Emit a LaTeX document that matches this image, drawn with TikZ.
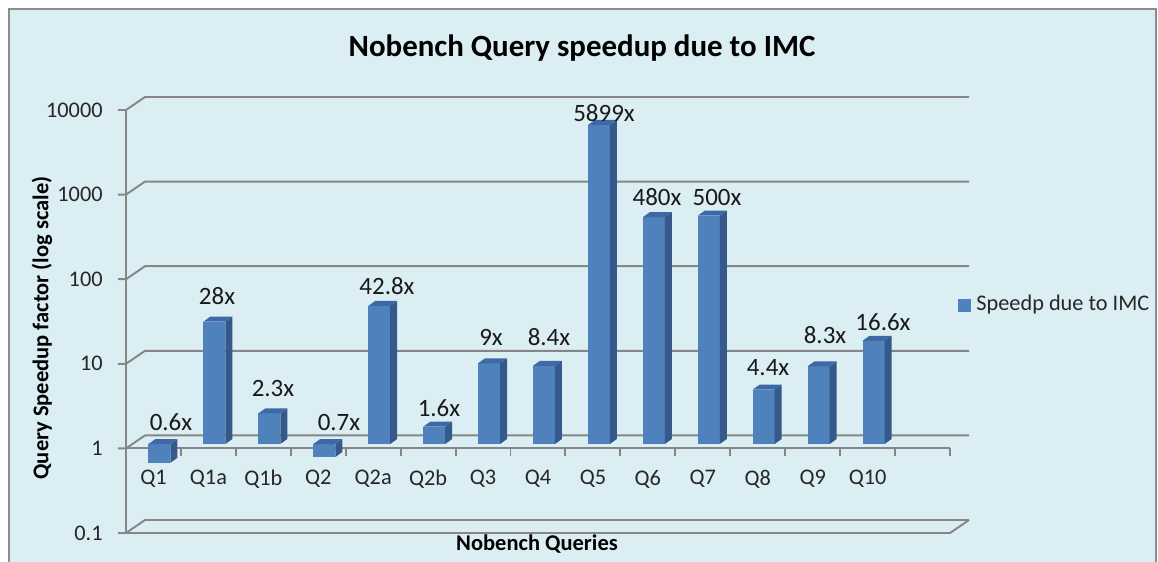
\documentclass[tikz,border=0pt]{standalone}
\usepackage{fontspec}
\setmainfont{Carlito}

\definecolor{chartbg}{HTML}{DBEEF4}
\definecolor{framegray}{HTML}{8C8C8C}
\definecolor{gridgray}{HTML}{868686}
\definecolor{barfront}{HTML}{4F81BD}
\definecolor{barside}{HTML}{34598A}
\definecolor{bartop}{HTML}{3E69A6}

\begin{document}
\begin{tikzpicture}[x=0.02cm,y=-0.02cm]

  \useasboundingbox (0,0) rectangle (1158,561);

  % node styles
  \tikzstyle{Grid}=[draw=gridgray,line width=1.1pt]
  \tikzstyle{Value}=[font=\fontsize{14.2}{16}\selectfont,text=black!90,inner sep=0pt]
  \tikzstyle{Tick}=[font=\fontsize{12.7}{15}\selectfont,text=black!85,anchor=east,inner sep=0pt]
  \tikzstyle{Cat}=[font=\fontsize{12.7}{15}\selectfont,text=black!85,inner sep=0pt]
  \tikzstyle{Label}=[font=\bfseries\fontsize{12.8}{15}\selectfont,inner sep=0pt]

  % chart area
  \begin{scope}
    \clip (0,0) rectangle (1158,561);
    \draw[fill=chartbg,draw=framegray,line width=1.2pt] (9,9) rectangle (1156,580);
  \end{scope}

  \node[font=\bfseries\fontsize{17.6}{20}\selectfont,inner sep=0pt] (title) at (582,48)
    {Nobench Query speedup due to IMC};

  % walls and grid (log scale, 0.1 ... 10000)
  \foreach \k/\t in {0/0.1,1/1,2/10,3/100,4/1000,5/10000} {
    \pgfmathsetmacro{\yf}{533-84.6*\k}
    \draw[Grid] (118,\yf) -- (126,\yf) -- (145,\yf-13) -- (969,\yf-13);
    \node[Tick] (tick\k) at (103,\yf) {\t};
  }
  \draw[Grid] (126,533) -- (950,533) -- (969,520);
  \draw[Grid] (126,110) -- (126,533);

  % category axis at value 1
  \draw[Grid] (126,448) -- (950,448);
  \foreach \j in {1,...,15}
    \draw[Grid] (126+54.93*\j,448) -- (126+54.93*\j,456);

  % 3d columns
  \foreach \i/\q/\v/\lx/\ly in {0/Q1/0.6/171/422, 1/Q1a/28/217/296, 2/Q1b/2.3/273/388,
      3/Q2/0.7/339/422, 4/Q2a/42.8/387/286, 5/Q2b/1.6/439/408, 6/Q3/9/491/337,
      7/Q4/8.4/549/337, 8/Q5/5899/604/113, 9/Q6/480/657/197, 10/Q7/500/717/197,
      11/Q8/4.4/768/368, 12/Q9/8.3/825/335, 13/Q10/16.6/883/322} {
    \pgfmathsetmacro{\xa}{126+54.93*(\i+0.5)-5}
    \pgfmathsetmacro{\xb}{\xa+22}
    \pgfmathsetmacro{\yv}{444-84.6*log10(\v)}
    \pgfmathsetmacro{\ya}{min(444,\yv)}
    \pgfmathsetmacro{\yb}{max(444,\yv)}
    \fill[barfront] (\xa,\ya) rectangle (\xb,\yb);
    \fill[barside] (\xb,\ya) -- (\xb+7,\ya-5) -- (\xb+7,\yb-5) -- (\xb,\yb) -- cycle;
    \fill[bartop] (\xa,\ya) -- (\xa+7,\ya-5) -- (\xb+7,\ya-5) -- (\xb,\ya) -- cycle;
    \node[Value] (val\i) at (\lx,\ly) {\v x};
    \node[Cat] (cat\i) at (126+54.93*\i+27.5,479) {\q};
  }

  % axis titles
  \node[Label,rotate=90] (ytitle) at (42,328) {Query Speedup factor (log scale)};
  \node[Label] (xtitle) at (537,544) {Nobench Queries};

  % legend
  \node[fill=barfront,minimum size=13*0.02cm,inner sep=0pt] (legkey) at (964.5,305.5) {};
  \node[Cat,anchor=west] (legtext) at (976,305) {Speedp due to IMC};

\end{tikzpicture}
\end{document}
